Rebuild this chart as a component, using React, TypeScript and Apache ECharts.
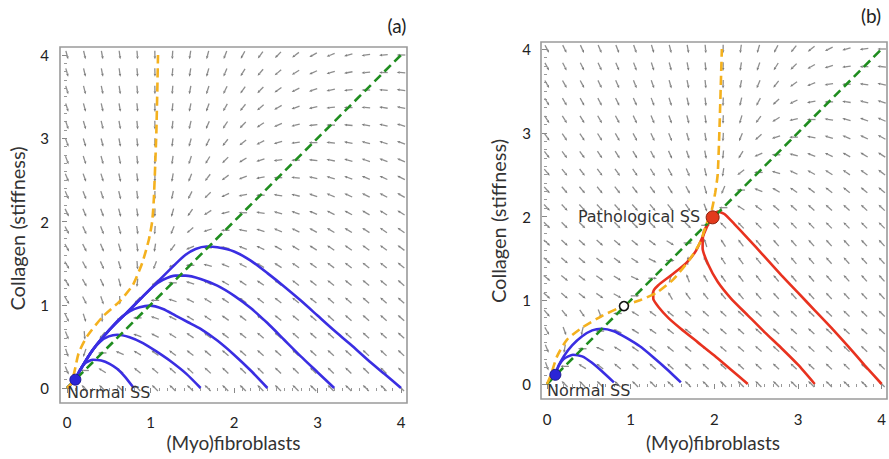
import React, { useEffect, useRef } from "react";
import * as echarts from "echarts";

type P = [number, number];

// ---------- data ----------
const tickValues = [0, 1, 2, 3, 4];
const panelTitles = ["(a)", "(b)"];
const xName = "(Myo)fibroblasts";
const yName = "Collagen (stiffness)";
const labelNormal = "Normal SS";
const labelPath = "Pathological SS";

// Panel (a)
const greenA: P[] = [[0, 0], [4, 4]];
const orangeA: P[] = [[0, 0], [0.05, 0.05], [0.09, 0.2], [0.14, 0.42], [0.24, 0.62], [0.43, 0.86], [0.63, 1.04], [0.79, 1.24], [0.9, 1.5], [0.98, 1.78], [1.02, 2.0], [1.04, 2.27], [1.07, 3.07], [1.09, 4.0]];
const blueA1: P[] = [[0.8, 0.0], [0.69, 0.14], [0.6, 0.23], [0.51, 0.29], [0.41, 0.33], [0.31, 0.34], [0.22, 0.3], [0.16, 0.22], [0.1, 0.1]];
const blueA2: P[] = [[1.6, 0.0], [1.43, 0.17], [1.23, 0.33], [1.07, 0.44], [0.91, 0.54], [0.75, 0.61], [0.6, 0.64], [0.5, 0.62], [0.4, 0.56], [0.31, 0.46], [0.16, 0.22], [0.1, 0.1]];
const blueA3: P[] = [[2.4, 0.0], [2.2, 0.21], [2.0, 0.4], [1.8, 0.57], [1.6, 0.71], [1.45, 0.79], [1.3, 0.87], [1.15, 0.95], [0.99, 0.99], [0.87, 0.97], [0.75, 0.92], [0.62, 0.82], [0.51, 0.7], [0.31, 0.46], [0.16, 0.22], [0.1, 0.1]];
const blueA4: P[] = [[3.2, 0.0], [3.0, 0.19], [2.8, 0.38], [2.6, 0.58], [2.4, 0.78], [2.2, 0.96], [2.0, 1.11], [1.8, 1.23], [1.6, 1.31], [1.42, 1.35], [1.3, 1.35], [1.15, 1.3], [1.03, 1.22], [0.91, 1.1], [0.71, 0.9], [0.51, 0.7], [0.31, 0.46], [0.16, 0.22], [0.1, 0.1]];
const blueA5: P[] = [[4.0, 0.0], [3.8, 0.17], [3.6, 0.34], [3.4, 0.52], [3.2, 0.69], [3.0, 0.87], [2.8, 1.05], [2.6, 1.22], [2.4, 1.38], [2.2, 1.53], [2.0, 1.64], [1.8, 1.69], [1.67, 1.7], [1.54, 1.67], [1.42, 1.6], [1.31, 1.5], [1.11, 1.3], [0.91, 1.1], [0.71, 0.9], [0.51, 0.7], [0.31, 0.46], [0.16, 0.22], [0.1, 0.1]];
const blueA0: P[] = [[0, 0], [0.1, 0.1]];
const normalSSA: P = [0.1, 0.1];
const normalLabelA: P = [0.0, -0.06];

// Panel (b)
const greenB: P[] = [[0, 0], [4, 4]];
const orangeB: P[] = [[0, 0], [0.04, 0.09], [0.12, 0.33], [0.24, 0.53], [0.43, 0.68], [0.67, 0.82], [0.91, 0.93], [1.11, 1.0], [1.31, 1.09], [1.51, 1.25], [1.7, 1.48], [1.83, 1.69], [1.91, 1.92], [1.97, 2.08], [2.01, 2.28], [2.04, 2.5], [2.06, 3.0], [2.09, 4.0]];
const blueB1: P[] = [[0.8, 0.02], [0.66, 0.15], [0.53, 0.26], [0.42, 0.33], [0.31, 0.35], [0.2, 0.3], [0.14, 0.22], [0.1, 0.11]];
const blueB2: P[] = [[1.6, 0.02], [1.43, 0.18], [1.27, 0.32], [1.11, 0.45], [0.95, 0.55], [0.8, 0.63], [0.65, 0.66], [0.54, 0.64], [0.42, 0.57], [0.3, 0.46], [0.2, 0.33], [0.14, 0.22], [0.1, 0.11]];
const blueB0: P[] = [[0, 0], [0.1, 0.11]];
const redB1: P[] = [[2.4, 0.0], [2.2, 0.17], [2.0, 0.34], [1.8, 0.5], [1.6, 0.66], [1.45, 0.79], [1.34, 0.91], [1.27, 1.02], [1.27, 1.1], [1.33, 1.18], [1.5, 1.31], [1.66, 1.44], [1.78, 1.59], [1.87, 1.78], [1.94, 1.94], [1.98, 1.99]];
const redB2: P[] = [[3.2, 0.0], [3.0, 0.23], [2.8, 0.43], [2.6, 0.62], [2.4, 0.82], [2.2, 1.02], [2.04, 1.22], [1.93, 1.42], [1.86, 1.62], [1.87, 1.8], [1.93, 1.93], [1.98, 1.99]];
const redB3: P[] = [[4.0, 0.0], [3.8, 0.22], [3.6, 0.45], [3.4, 0.67], [3.2, 0.88], [3.0, 1.09], [2.8, 1.3], [2.6, 1.52], [2.4, 1.74], [2.24, 1.91], [2.12, 2.03], [2.04, 2.06], [1.99, 2.02]];
const normalSSB: P = [0.1, 0.11];
const saddleB: P = [0.92, 0.93];
const pathSSB: P = [1.98, 1.99];
const normalLabelB: P = [0.0, -0.08];
const pathLabelB: P = [1.83, 2.0];

// direction field sampled on Maple's default 20x20 grid, derived from the nullclines above
const FIELD_N = 20;
function xNull(orange: P[], y: number): number {
  if (y <= orange[0][1]) return orange[0][0];
  for (let i = 1; i < orange.length; i++) {
    const a = orange[i - 1], b = orange[i];
    if (y <= b[1]) return a[0] + ((y - a[1]) / (b[1] - a[1])) * (b[0] - a[0]);
  }
  return orange[orange.length - 1][0];
}
function fieldData(orange: P[]): number[][] {
  const out: number[][] = [];
  for (let i = 0; i < FIELD_N; i++) {
    for (let j = 0; j < FIELD_N; j++) {
      const x = (4 * i) / (FIELD_N - 1);
      const y = (4 * j) / (FIELD_N - 1);
      const dx = xNull(orange, y) - x;
      const dy = x - y;
      const n = Math.hypot(dx, dy) || 1;
      out.push([x, y, dx / n, dy / n]);
    }
  }
  return out;
}

// ---------- styles ----------
const C_BLUE = "#3a2ee2";
const C_RED = "#e8321f";
const C_ORANGE = "#f4b11e";
const C_GREEN = "#1f8d1f";
const C_ARROW = "#8e8e8e";
const C_FRAME = "#9a9a9a";
const TICK_FONT = "Lato";
const NAME_FONT = "Lato";
const NOTE_FONT = "DejaVu Sans";

export default function App() {
  const ref = useRef<HTMLDivElement>(null);
  useEffect(() => {
    if (!ref.current) return;
    const chart = echarts.init(ref.current, undefined, { renderer: "svg" });

    const grids = [
      { left: 67, top: 55, width: 334, height: 333 },
      { left: 547, top: 49, width: 335, height: 335 },
    ];
    const xOffsets = [15, 15];
    const yOffsets = [7, 6];
    const xMargins = [11, 12];
    const yMargins = [11, 10];

    const mkAxis = (g: number, offset: number, margin: number) => ({
      type: "value",
      gridIndex: g,
      min: 0,
      max: 4,
      interval: 1,
      offset,
      axisLine: { show: false },
      axisTick: { show: true, length: 5, lineStyle: { color: "#888", width: 1 } },
      minorTick: { show: true, splitNumber: 10, length: 3, lineStyle: { color: "#999", width: 1 } },
      splitLine: { show: false },
      axisLabel: {
        margin,
        fontFamily: TICK_FONT,
        fontSize: 15,
        color: "#222",
        formatter: (v: number) => (tickValues.includes(v) ? String(v) : ""),
      },
    });
    const xAxes = grids.map((_, g) => mkAxis(g, xOffsets[g], xMargins[g]));
    const yAxes = grids.map((_, g) => mkAxis(g, yOffsets[g], yMargins[g]));

    const fieldSeries = (orange: P[], g: number) => ({
      type: "custom",
      xAxisIndex: g,
      yAxisIndex: g,
      data: fieldData(orange),
      silent: true,
      z: 1,
      clip: false,
      renderItem: (_p: any, api: any) => {
        const pt = api.coord([api.value(0), api.value(1)]);
        const ux = api.value(2);
        const uy = -api.value(3);
        const L = 4.3;
        const x1 = pt[0] - ux * L, y1 = pt[1] - uy * L;
        const x2 = pt[0] + ux * L, y2 = pt[1] + uy * L;
        const hx = x2 - ux * 3, hy = y2 - uy * 3;
        const nx = -uy, ny = ux;
        return {
          type: "group",
          children: [
            { type: "line", shape: { x1, y1, x2: hx, y2: hy }, style: { stroke: C_ARROW, lineWidth: 1.3 } },
            {
              type: "polygon",
              shape: { points: [[x2, y2], [hx + nx * 1.3, hy + ny * 1.3], [hx - nx * 1.3, hy - ny * 1.3]] },
              style: { fill: "#7c7c7c" },
            },
          ],
        };
      },
    });

    const lineS = (data: P[], color: string, g: number, dashed: boolean, z = 3) => ({
      type: "line",
      xAxisIndex: g,
      yAxisIndex: g,
      data,
      symbol: "none",
      showSymbol: false,
      smooth: 0.2,
      clip: false,
      silent: true,
      z,
      lineStyle: { color, width: 2.6, type: dashed ? [9, 5] : "solid" },
    });

    const pointS = (pt: P, g: number, size: number, fill: string, border: string, bw: number) => ({
      type: "scatter",
      xAxisIndex: g,
      yAxisIndex: g,
      data: [pt],
      symbol: "circle",
      symbolSize: size,
      clip: false,
      silent: true,
      z: 6,
      itemStyle: { color: fill, borderColor: border, borderWidth: bw, opacity: 1 },
    });

    const textS = (pts: P[], texts: string[], aligns: string[], g: number) => ({
      type: "custom",
      xAxisIndex: g,
      yAxisIndex: g,
      data: pts,
      silent: true,
      clip: false,
      z: 7,
      renderItem: (params: any, api: any) => {
        const pt = api.coord([api.value(0), api.value(1)]);
        return {
          type: "text",
          x: pt[0],
          y: pt[1],
          style: {
            text: texts[params.dataIndex],
            fill: "#333",
            font: `16px "${NOTE_FONT}"`,
            align: aligns[params.dataIndex],
            verticalAlign: "middle",
          },
        };
      },
    });

    const series: any[] = [
      fieldSeries(orangeA, 0),
      lineS(greenA, C_GREEN, 0, true, 4),
      lineS(orangeA, C_ORANGE, 0, true, 4),
      lineS(blueA0, C_BLUE, 0, false),
      lineS(blueA1, C_BLUE, 0, false),
      lineS(blueA2, C_BLUE, 0, false),
      lineS(blueA3, C_BLUE, 0, false),
      lineS(blueA4, C_BLUE, 0, false),
      lineS(blueA5, C_BLUE, 0, false),
      pointS(normalSSA, 0, 11, "#2b25d6", "#1a1890", 1),
      textS([normalLabelA], [labelNormal], ["left"], 0),

      fieldSeries(orangeB, 1),
      lineS(greenB, C_GREEN, 1, true, 4),
      lineS(orangeB, C_ORANGE, 1, true, 4),
      lineS(blueB0, C_BLUE, 1, false),
      lineS(blueB1, C_BLUE, 1, false),
      lineS(blueB2, C_BLUE, 1, false),
      lineS(redB1, C_RED, 1, false),
      lineS(redB2, C_RED, 1, false),
      lineS(redB3, C_RED, 1, false),
      pointS(normalSSB, 1, 11, "#2b25d6", "#1a1890", 1),
      pointS(saddleB, 1, 9, "#ffffff", "#111111", 1.6),
      pointS(pathSSB, 1, 13, "#e23a1c", "#8a200c", 1),
      textS([normalLabelB, pathLabelB], [labelNormal, labelPath], ["left", "right"], 1),
    ];

    const nameStyle = { fill: "#333", font: `19px "${NAME_FONT}"`, align: "center", verticalAlign: "middle" };
    const graphic: any[] = [
      { type: "rect", shape: { x: 60, y: 47, width: 347, height: 356 }, style: { fill: "none", stroke: C_FRAME, lineWidth: 1.6 }, z: 0 },
      { type: "rect", shape: { x: 541, y: 42, width: 346, height: 357 }, style: { fill: "none", stroke: C_FRAME, lineWidth: 1.6 }, z: 0 },
      { type: "text", x: 233.5, y: 442, style: { ...nameStyle, text: xName } },
      { type: "text", x: 713, y: 442, style: { ...nameStyle, text: xName } },
      { type: "text", x: 17, y: 228.5, rotation: Math.PI / 2, style: { ...nameStyle, font: `20px "${NAME_FONT}"`, text: yName } },
      { type: "text", x: 498, y: 221, rotation: Math.PI / 2, style: { ...nameStyle, font: `20px "${NAME_FONT}"`, text: yName } },
      { type: "text", x: 397, y: 25, style: { fill: "#222", font: `19px "${NAME_FONT}"`, align: "center", verticalAlign: "middle", text: panelTitles[0] } },
      { type: "text", x: 871, y: 15, style: { fill: "#222", font: `19px "${NAME_FONT}"`, align: "center", verticalAlign: "middle", text: panelTitles[1] } },
    ];

    chart.setOption({
      animation: false,
      backgroundColor: "#ffffff",
      grid: grids.map((g) => ({ ...g, containLabel: false })),
      xAxis: xAxes,
      yAxis: yAxes,
      series,
      graphic,
    });
    return () => chart.dispose();
  }, []);

  return (
    <div
      ref={ref}
      style={{ position: "fixed", left: 0, top: 0, width: 889, height: 459, background: "#fff" }}
    />
  );
}
